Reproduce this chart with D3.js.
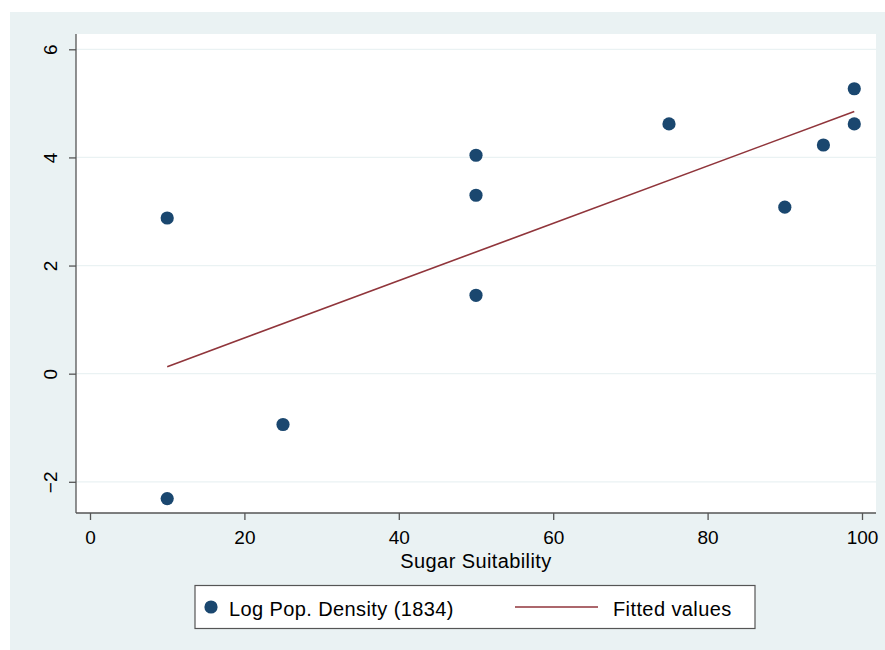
<!DOCTYPE html>
<html>
<head>
<meta charset="utf-8">
<script src="https://cdn.jsdelivr.net/npm/d3@7"></script>
<style>
  html, body { margin: 0; padding: 0; background: #ffffff; }
  svg { display: block; }
  text { font-family: "Liberation Sans", Arial, Helvetica, sans-serif; fill: #000; }
</style>
</head>
<body>
<svg id="chart" width="885" height="650"></svg>
<script>
// Data
const sugarSuitability = [10, 10, 25, 50, 50, 50, 75, 90, 95, 99, 99];
const logPopDensity    = [-2.31, 2.88, -0.94, 4.04, 3.30, 1.45, 4.62, 3.08, 4.23, 5.27, 4.62];
const fittedX = [10, 99];
const fittedY = [0.13, 4.85];
const xTicks = [0, 20, 40, 60, 80, 100];
const yTicks = [-2, 0, 2, 4, 6];
const xTitle = "Sugar Suitability";
const legendLabels = ["Log Pop. Density (1834)", "Fitted values"];

const svg = d3.select("#chart");
const W = 885, H = 650;
const FONT = "'Liberation Sans', Arial, Helvetica, sans-serif";

// outer graph region
svg.append("rect").attr("x", 10).attr("y", 12).attr("width", W - 10).attr("height", H - 12)
  .attr("fill", "#eaf2f3");

const plot = { left: 76, top: 34, right: 876, bottom: 513 };

svg.append("rect").attr("x", plot.left).attr("y", plot.top)
  .attr("width", plot.right - plot.left).attr("height", plot.bottom - plot.top)
  .attr("fill", "#ffffff");

const x = d3.scaleLinear().domain([0, 100]).range([90, 862]);
const y = d3.scaleLinear().domain([-2, 6]).range([481.8, 49.3]);

// gridlines
svg.append("g").selectAll("line").data(yTicks).join("line")
  .attr("x1", plot.left).attr("x2", plot.right)
  .attr("y1", d => y(d)).attr("y2", d => y(d))
  .attr("stroke", "#eaf2f3").attr("stroke-width", 1.2);

// y axis
const yAxis = d3.axisLeft(y).tickValues(yTicks).tickSize(7).tickPadding(0).tickFormat(d3.format("d"));
const gy = svg.append("g").attr("transform", `translate(${plot.left},0)`).call(yAxis);
gy.attr("font-family", FONT).attr("font-size", 19);
gy.select(".domain").attr("d", `M0,${plot.top}V${plot.bottom}`).attr("stroke", "#555").attr("stroke-width", 1.3);
gy.selectAll(".tick line").attr("stroke", "#555").attr("stroke-width", 1.3);
gy.selectAll(".tick text")
  .attr("x", null).attr("dy", null)
  .attr("text-anchor", "middle")
  .attr("transform", "translate(-19,0) rotate(-90)")
  .attr("y", 0)
  .attr("fill", "#000");

// x axis
const xAxis = d3.axisBottom(x).tickValues(xTicks).tickSize(7).tickPadding(0).tickFormat(d3.format("d"));
const gx = svg.append("g").attr("transform", `translate(0,${plot.bottom})`).call(xAxis);
gx.attr("font-family", FONT).attr("font-size", 19);
gx.select(".domain").attr("d", `M${plot.left},0H${plot.right}`).attr("stroke", "#555").attr("stroke-width", 1.3);
gx.selectAll(".tick line").attr("stroke", "#555").attr("stroke-width", 1.3);
gx.selectAll(".tick text")
  .attr("dy", null).attr("y", 31)
  .attr("fill", "#000");

// x title
svg.append("text").attr("x", 476).attr("y", 568).attr("text-anchor", "middle")
  .attr("font-size", 20).attr("letter-spacing", 0.4).text(xTitle);

// fitted line
const line = d3.line().x(d => x(d[0])).y(d => y(d[1]));
svg.append("path").datum(d3.zip(fittedX, fittedY)).attr("d", line)
  .attr("fill", "none").attr("stroke", "#90353b").attr("stroke-width", 1.6);

// points
svg.append("g").selectAll("circle").data(d3.zip(sugarSuitability, logPopDensity)).join("circle")
  .attr("cx", d => x(d[0])).attr("cy", d => y(d[1])).attr("r", 6.6)
  .attr("fill", "#1a476f");

// legend
const lg = svg.append("g");
lg.append("rect").attr("x", 195).attr("y", 585.5).attr("width", 560).attr("height", 43)
  .attr("fill", "#ffffff").attr("stroke", "#555").attr("stroke-width", 1.2);
lg.append("circle").attr("cx", 211).attr("cy", 607).attr("r", 6.6).attr("fill", "#1a476f");
lg.append("text").attr("x", 229).attr("y", 616).attr("font-size", 20).attr("letter-spacing", 0.4).text(legendLabels[0]);
lg.append("line").attr("x1", 515).attr("x2", 598).attr("y1", 607).attr("y2", 607)
  .attr("stroke", "#90353b").attr("stroke-width", 1.6);
lg.append("text").attr("x", 613).attr("y", 616).attr("font-size", 20).attr("letter-spacing", 0.4).text(legendLabels[1]);
</script>
</body>
</html>
